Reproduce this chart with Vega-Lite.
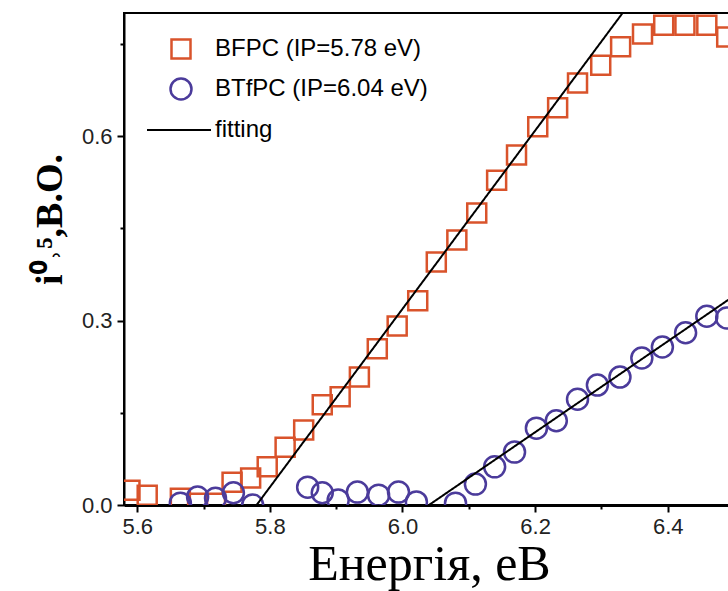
{
  "$schema": "https://vega.github.io/schema/vega-lite/v6.json",
  "width": 610,
  "height": 492,
  "autosize": {"type": "none"},
  "padding": {"left": 124, "top": 13, "right": 0, "bottom": 86},
  "background": "white",
  "config": {
    "view": {"stroke": "black", "strokeWidth": 2},
    "axis": {"grid": false, "tickColor": "black", "tickWidth": 2, "domainColor": "black", "titleColor": "black", "labelFlush": false, "labelOverlap": false, "labelFontSize": 22, "labelFont": "Liberation Sans"},
    "style": {"guide-label": {"fontSize": 22, "font": "Liberation Sans"}}
  },
  "datasets": {
    "points": [
      {"series": "BFPC (IP=5.78 eV)", "energy": 5.589, "value": 0.024},
      {"series": "BFPC (IP=5.78 eV)", "energy": 5.615, "value": 0.016},
      {"series": "BFPC (IP=5.78 eV)", "energy": 5.665, "value": 0.011},
      {"series": "BFPC (IP=5.78 eV)", "energy": 5.691, "value": 0.003},
      {"series": "BFPC (IP=5.78 eV)", "energy": 5.718, "value": 0.003},
      {"series": "BFPC (IP=5.78 eV)", "energy": 5.743, "value": 0.037},
      {"series": "BFPC (IP=5.78 eV)", "energy": 5.771, "value": 0.044},
      {"series": "BFPC (IP=5.78 eV)", "energy": 5.796, "value": 0.062},
      {"series": "BFPC (IP=5.78 eV)", "energy": 5.823, "value": 0.094},
      {"series": "BFPC (IP=5.78 eV)", "energy": 5.851, "value": 0.122},
      {"series": "BFPC (IP=5.78 eV)", "energy": 5.879, "value": 0.163},
      {"series": "BFPC (IP=5.78 eV)", "energy": 5.906, "value": 0.176},
      {"series": "BFPC (IP=5.78 eV)", "energy": 5.935, "value": 0.208},
      {"series": "BFPC (IP=5.78 eV)", "energy": 5.962, "value": 0.254},
      {"series": "BFPC (IP=5.78 eV)", "energy": 5.992, "value": 0.291},
      {"series": "BFPC (IP=5.78 eV)", "energy": 6.023, "value": 0.332},
      {"series": "BFPC (IP=5.78 eV)", "energy": 6.051, "value": 0.395},
      {"series": "BFPC (IP=5.78 eV)", "energy": 6.082, "value": 0.431},
      {"series": "BFPC (IP=5.78 eV)", "energy": 6.112, "value": 0.475},
      {"series": "BFPC (IP=5.78 eV)", "energy": 6.142, "value": 0.528},
      {"series": "BFPC (IP=5.78 eV)", "energy": 6.172, "value": 0.569},
      {"series": "BFPC (IP=5.78 eV)", "energy": 6.204, "value": 0.615},
      {"series": "BFPC (IP=5.78 eV)", "energy": 6.234, "value": 0.646},
      {"series": "BFPC (IP=5.78 eV)", "energy": 6.264, "value": 0.686},
      {"series": "BFPC (IP=5.78 eV)", "energy": 6.299, "value": 0.715},
      {"series": "BFPC (IP=5.78 eV)", "energy": 6.329, "value": 0.745},
      {"series": "BFPC (IP=5.78 eV)", "energy": 6.362, "value": 0.766},
      {"series": "BFPC (IP=5.78 eV)", "energy": 6.394, "value": 0.780},
      {"series": "BFPC (IP=5.78 eV)", "energy": 6.426, "value": 0.780},
      {"series": "BFPC (IP=5.78 eV)", "energy": 6.459, "value": 0.780},
      {"series": "BFPC (IP=5.78 eV)", "energy": 6.489, "value": 0.761},
      {"series": "BTfPC (IP=6.04 eV)", "energy": 5.665, "value": 0.003},
      {"series": "BTfPC (IP=6.04 eV)", "energy": 5.691, "value": 0.013},
      {"series": "BTfPC (IP=6.04 eV)", "energy": 5.718, "value": 0.011},
      {"series": "BTfPC (IP=6.04 eV)", "energy": 5.745, "value": 0.020},
      {"series": "BTfPC (IP=6.04 eV)", "energy": 5.774, "value": 0.0},
      {"series": "BTfPC (IP=6.04 eV)", "energy": 5.857, "value": 0.029},
      {"series": "BTfPC (IP=6.04 eV)", "energy": 5.879, "value": 0.020},
      {"series": "BTfPC (IP=6.04 eV)", "energy": 5.903, "value": 0.008},
      {"series": "BTfPC (IP=6.04 eV)", "energy": 5.932, "value": 0.021},
      {"series": "BTfPC (IP=6.04 eV)", "energy": 5.964, "value": 0.016},
      {"series": "BTfPC (IP=6.04 eV)", "energy": 5.994, "value": 0.021},
      {"series": "BTfPC (IP=6.04 eV)", "energy": 6.021, "value": 0.005},
      {"series": "BTfPC (IP=6.04 eV)", "energy": 6.080, "value": 0.003},
      {"series": "BTfPC (IP=6.04 eV)", "energy": 6.110, "value": 0.034},
      {"series": "BTfPC (IP=6.04 eV)", "energy": 6.139, "value": 0.062},
      {"series": "BTfPC (IP=6.04 eV)", "energy": 6.169, "value": 0.086},
      {"series": "BTfPC (IP=6.04 eV)", "energy": 6.202, "value": 0.125},
      {"series": "BTfPC (IP=6.04 eV)", "energy": 6.232, "value": 0.137},
      {"series": "BTfPC (IP=6.04 eV)", "energy": 6.264, "value": 0.172},
      {"series": "BTfPC (IP=6.04 eV)", "energy": 6.294, "value": 0.195},
      {"series": "BTfPC (IP=6.04 eV)", "energy": 6.328, "value": 0.208},
      {"series": "BTfPC (IP=6.04 eV)", "energy": 6.361, "value": 0.239},
      {"series": "BTfPC (IP=6.04 eV)", "energy": 6.392, "value": 0.257},
      {"series": "BTfPC (IP=6.04 eV)", "energy": 6.427, "value": 0.280},
      {"series": "BTfPC (IP=6.04 eV)", "energy": 6.459, "value": 0.307},
      {"series": "BTfPC (IP=6.04 eV)", "energy": 6.489, "value": 0.304}
    ],
    "fits": [
      {"fit": "fitting", "part": "BFPC", "energy": 5.78, "value": 0.0},
      {"fit": "fitting", "part": "BFPC", "energy": 6.332, "value": 0.8},
      {"fit": "fitting", "part": "BTfPC", "energy": 6.04, "value": 0.0},
      {"fit": "fitting", "part": "BTfPC", "energy": 6.5, "value": 0.34}
    ]
  },
  "encoding": {
    "x": {
      "field": "energy", "type": "quantitative",
      "scale": {"domain": [5.58, 6.5], "nice": false, "zero": false},
      "axis": {
        "values": [5.6, 5.7, 5.8, 5.9, 6.0, 6.1, 6.2, 6.3, 6.4, 6.5],
        "labelExpr": "round(datum.value*10)%2==1 ? '' : format(datum.value, '.1f')",
        "tickSize": {"condition": {"test": "round(datum.value*10)%2==1", "value": 4}, "value": 7},
        "labelFont": "Liberation Sans", "labelFontSize": 22, "labelColor": "#222222",
        "labelPadding": 4,
        "domainWidth": 3,
        "title": "Енергія, еВ",
        "titleFont": "Liberation Serif", "titleFontSize": 50, "titleFontWeight": "normal",
        "titlePadding": 2
      }
    },
    "y": {
      "field": "value", "type": "quantitative",
      "scale": {"domain": [0, 0.8], "nice": false, "zero": false},
      "axis": {
        "values": [0, 0.15, 0.3, 0.45, 0.6, 0.75],
        "labelExpr": "round(datum.value*100)%30!=0 ? '' : format(datum.value, '.1f')",
        "tickSize": {"condition": {"test": "round(datum.value*100)%30!=0", "value": 4}, "value": 7},
        "labelFont": "Liberation Sans", "labelFontSize": 22, "labelColor": "#222222",
        "labelPadding": 5,
        "domainWidth": 2,
        "title": "і⁰˒⁵,В.О.",
        "titleFont": "Liberation Serif", "titleFontSize": 38, "titleFontWeight": "bold",
        "titlePadding": 12,
        "titleY": 206
      }
    }
  },
  "layer": [
    {
      "data": {"name": "points"},
      "mark": {"type": "point", "filled": false, "strokeWidth": 2.5, "clip": true, "opacity": 1},
      "encoding": {
        "color": {
          "field": "series", "type": "nominal",
          "scale": {"domain": ["BFPC (IP=5.78 eV)", "BTfPC (IP=6.04 eV)"], "range": ["#d9532b", "#4b3b9b"]},
          "legend": {
            "title": null, "orient": "none", "legendX": 45, "legendY": 24,
            "labelFont": "Liberation Sans", "labelFontSize": 24, "labelColor": "black", "labelLimit": 0,
            "symbolStrokeWidth": 2.5, "labelOffset": 22, "rowPadding": 9
          }
        },
        "shape": {
          "field": "series", "type": "nominal",
          "scale": {"domain": ["BFPC (IP=5.78 eV)", "BTfPC (IP=6.04 eV)"], "range": ["square", "circle"]}
        },
        "size": {
          "field": "series", "type": "nominal",
          "scale": {"domain": ["BFPC (IP=5.78 eV)", "BTfPC (IP=6.04 eV)"], "range": [361, 441]}
        }
      }
    },
    {
      "data": {"name": "fits"},
      "mark": {"type": "line", "color": "black", "strokeWidth": 2, "clip": true},
      "encoding": {
        "detail": {"field": "part", "type": "nominal"},
        "strokeDash": {
          "field": "fit", "type": "nominal",
          "scale": {"domain": ["fitting"], "range": [[1, 0]]},
          "legend": {
            "title": null, "orient": "none", "legendX": 22, "legendY": 84,
            "labelFont": "Liberation Sans", "labelFontSize": 24, "labelColor": "black", "labelLimit": 0,
            "symbolType": "stroke", "symbolSize": 4096, "symbolStrokeWidth": 2, "symbolStrokeColor": "black", "labelOffset": 3
          }
        }
      }
    }
  ]
}
